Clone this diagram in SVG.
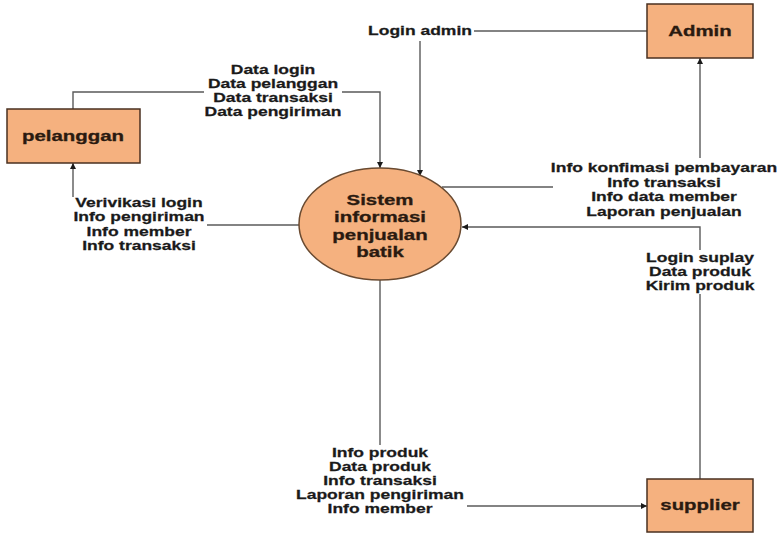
<svg xmlns="http://www.w3.org/2000/svg" width="784" height="533" viewBox="0 0 784 533">
<style>
.box{fill:#F5B17F;stroke:#4a3020;stroke-width:1.5}
.proc{fill:#F5B17F;stroke:#6a4a30;stroke-width:1.5}
.lbl{font-family:"Liberation Sans",Arial,sans-serif;font-weight:bold;font-size:12.5px;fill:#1a1a1a;stroke:#1a1a1a;stroke-width:0.25;text-anchor:middle}
.nlbl{font-family:"Liberation Sans",Arial,sans-serif;font-weight:bold;font-size:14.6px;fill:#2a1a10;stroke:#2a1a10;stroke-width:0.3;text-anchor:middle}
.ln{fill:none;stroke:#5a5a5a;stroke-width:1.4}
</style>
<defs>
<marker id="ah" viewBox="0 0 10 10" refX="10" refY="5" markerWidth="7" markerHeight="6" markerUnits="userSpaceOnUse" orient="auto">
<path d="M0,0 L10,5 L0,10 z" fill="#1a1a1a"/>
</marker>
</defs>
<rect width="784" height="533" fill="#ffffff"/>
<g id="connectors">
<path class="ln" d="M73,109 V92 H204"/>
<path class="ln" d="M342,92 H380 V168" marker-end="url(#ah)"/>
<path class="ln" d="M299,225 H207"/>
<path class="ln" d="M73,197 V163" marker-end="url(#ah)"/>
<path class="ln" d="M647,31 H474"/>
<path class="ln" d="M420,41 V176" marker-end="url(#ah)"/>
<path class="ln" d="M442,187 H553"/>
<path class="ln" d="M700,158 V58" marker-end="url(#ah)"/>
<path class="ln" d="M700,479 V294"/>
<path class="ln" d="M700,250 V227 H462" marker-end="url(#ah)"/>
<path class="ln" d="M380,280 V445"/>
<path class="ln" d="M467,506 H647" marker-end="url(#ah)"/>
<text class="lbl" transform="translate(273,74) scale(1.4,1)"><tspan x="0" y="0">Data login</tspan><tspan x="0" y="14">Data pelanggan</tspan><tspan x="0" y="28">Data transaksi</tspan><tspan x="0" y="42">Data pengiriman</tspan></text>
<text class="lbl" transform="translate(139,207) scale(1.4,1)"><tspan x="0" y="0">Verivikasi login</tspan><tspan x="0" y="14.5">Info pengiriman</tspan><tspan x="0" y="29">Info member</tspan><tspan x="0" y="43.5">Info transaksi</tspan></text>
<text class="lbl" transform="translate(420,35) scale(1.4,1)">Login admin</text>
<text class="lbl" transform="translate(664,172) scale(1.4,1)"><tspan x="0" y="0">Info konfimasi pembayaran</tspan><tspan x="0" y="14.7">Info transaksi</tspan><tspan x="0" y="29.4">Info data member</tspan><tspan x="0" y="44">Laporan penjualan</tspan></text>
<text class="lbl" transform="translate(700,262) scale(1.4,1)"><tspan x="0" y="0">Login suplay</tspan><tspan x="0" y="14">Data produk</tspan><tspan x="0" y="28">Kirim produk</tspan></text>
<text class="lbl" transform="translate(380,457) scale(1.4,1)"><tspan x="0" y="0">Info produk</tspan><tspan x="0" y="14">Data produk</tspan><tspan x="0" y="28">Info transaksi</tspan><tspan x="0" y="42">Laporan pengiriman</tspan><tspan x="0" y="56">Info member</tspan></text>
</g>
<g id="pelanggan">
<rect class="box" x="7" y="109" width="133" height="54"/>
<text class="nlbl" transform="translate(73,141) scale(1.4,1)">pelanggan</text>
</g>
<g id="admin">
<rect class="box" x="647" y="4" width="106" height="54"/>
<text class="nlbl" transform="translate(700,36) scale(1.4,1)">Admin</text>
</g>
<g id="supplier">
<rect class="box" x="647" y="479" width="106" height="53"/>
<text class="nlbl" transform="translate(700,510) scale(1.4,1)">supplier</text>
</g>
<g id="sistem">
<ellipse class="proc" cx="380" cy="224" rx="81" ry="56"/>
<text class="nlbl" transform="translate(380,205) scale(1.4,1)"><tspan x="0" y="0">Sistem</tspan><tspan x="0" y="17.3">informasi</tspan><tspan x="0" y="34.6">penjualan</tspan><tspan x="0" y="52">batik</tspan></text>
</g>
</svg>
